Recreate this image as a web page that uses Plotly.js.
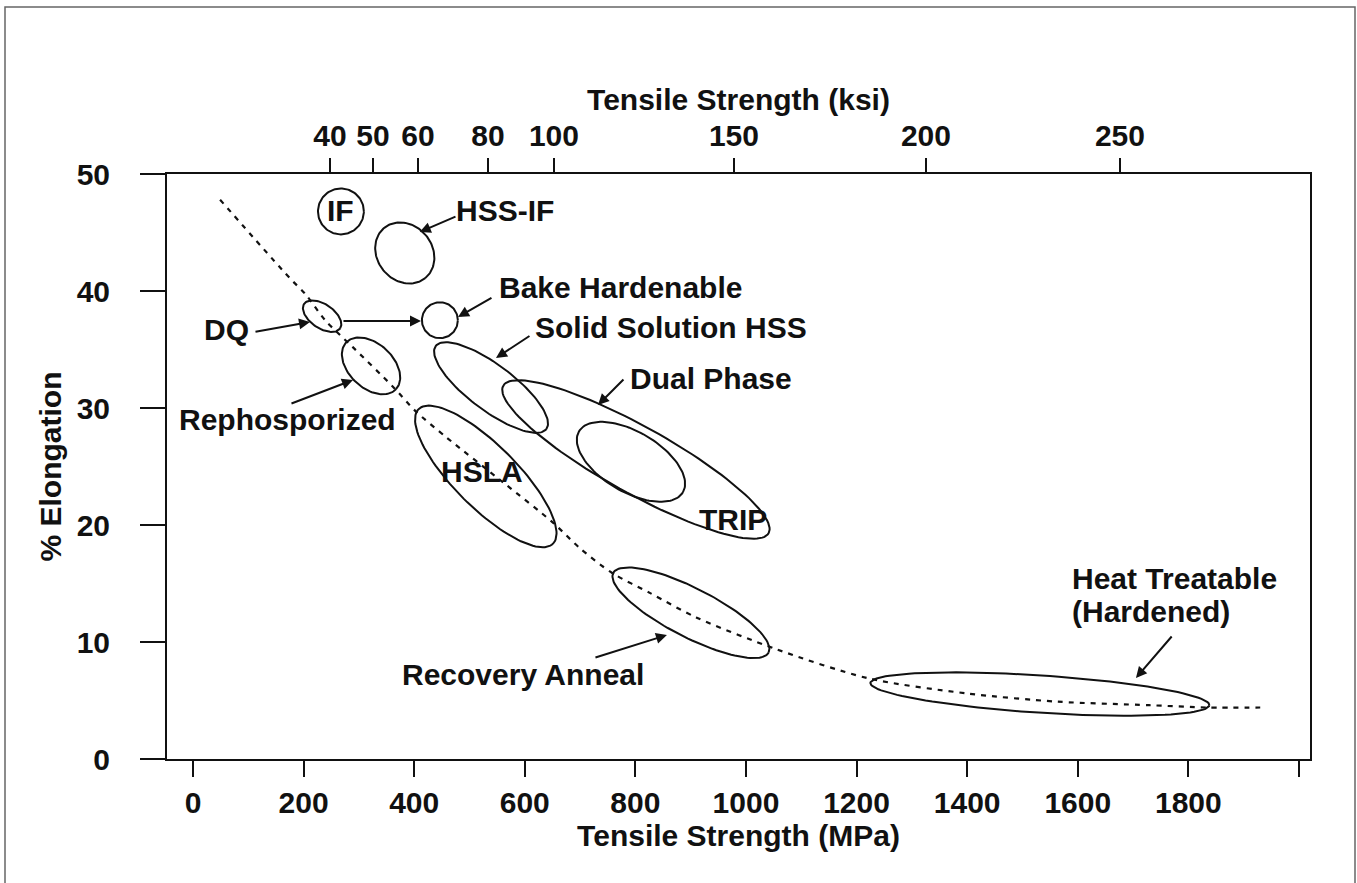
<!DOCTYPE html>
<html><head><meta charset="utf-8">
<script src="https://cdn.plot.ly/plotly-3.0.1.min.js"></script>
<style>html,body{margin:0;padding:0;background:#fff}</style>
</head><body><div id="chart" style="width:1357px;height:883px"></div>
<script>
// ---- data ----
// dashed trend line (tensile strength MPa, % elongation)
const trendMPa = [49, 175, 204, 239, 289, 362, 401, 458, 562, 651, 700, 758, 826, 910, 1054, 1221, 1400, 1564, 1729, 1835, 1930];
const trendEl  = [47.8, 41.1, 39.7, 37.5, 35.2, 31.8, 29.8, 27.5, 23.6, 20.2, 18.0, 15.9, 14.2, 12.1, 9.4, 6.9, 5.6, 4.9, 4.6, 4.4, 4.4];

// steel grade regions: ends of each ellipse (low-strength end, high-strength end) and width ratio
const regionNames = ['IF', 'HSS-IF', 'DQ', 'Bake Hardenable', 'Rephosporized', 'Solid Solution HSS', 'Dual Phase', 'TRIP', 'HSLA', 'Recovery Anneal', 'Heat Treatable (Hardened)'];
const regionLowMPa  = [226, 346, 201, 414, 277, 439, 561, 698, 408, 760, 1225];
const regionLowEl   = [46.8, 45.4, 38.9, 37.5, 35.6, 35.3, 31.9, 28.0, 29.9, 15.9, 6.5];
const regionHighMPa = [309, 420, 266, 479, 367, 639, 1041, 886, 651, 1041, 1838];
const regionHighEl  = [46.8, 41.1, 36.8, 37.5, 31.6, 28.2, 19.3, 22.8, 18.4, 9.1, 4.6];
const regionWidth   = [1, 0.85, 0.55, 1, 0.65, 0.33, 0.22, 0.5, 0.33, 0.28, 0.11];

// region labels
const labelText = ['IF', 'HSS-IF', 'DQ', 'Bake Hardenable', 'Rephosporized', 'Solid Solution HSS', 'Dual Phase', 'TRIP', 'HSLA', 'Recovery Anneal', 'Heat Treatable', '(Hardened)'];
const labelMPa  = [267.6, 565, 60.6, 774, 171.8, 864.4, 936.7, 976.5, 522.6, 597.6, 1586, 1586];
const labelEl   = [46.84, 46.84, 36.67, 40.34, 29.06, 36.92, 32.48, 20.43, 24.57, 7.18, 15.47, 12.65];
const labelAnchor = ['center','center','center','center','center','center','center','center','center','center','left','left'];

// pointer arrows (tail -> head)
const arrowTailMPa = [477.4, 542.5, 110.3, 269.4, 175.4, 611.2, 781.2, 725.1, 1772.2];
const arrowTailEl  = [46.41, 39.49, 36.50, 37.44, 30.34, 36.24, 32.56, 8.63, 10.60];
const arrowHeadMPa = [410.1, 479.2, 211.6, 412.3, 289.3, 547.9, 732.4, 857.1, 1705.2];
const arrowHeadEl  = [45.04, 37.78, 37.35, 37.44, 32.39, 34.27, 30.26, 10.60, 6.92];

// axes
const mpaTicks = [0, 200, 400, 600, 800, 1000, 1200, 1400, 1600, 1800, 2000];
const mpaTickText = ['0', '200', '400', '600', '800', '1000', '1200', '1400', '1600', '1800', ''];
const elTicks = [0, 10, 20, 30, 40, 50];
const ksiTickText = ['40', '50', '60', '80', '100', '150', '200', '250'];
const ksiTickAtMPa = [247.7, 325.5, 406.9, 533.5, 652.8, 978.3, 1325.5, 1676.3];

// ---- layout geometry ----
const W = 1357, H = 883;
const M = {l: 167, r: 47, t: 174, b: 124};
const xRange = [-47, 2020], yRange = [0, 50];
const sx = (W - M.l - M.r) / (xRange[1] - xRange[0]);
const sy = (H - M.t - M.b) / (yRange[1] - yRange[0]);

const INK = '#111';
const FONT = {family: 'Liberation Sans, Arial, sans-serif', size: 30, color: INK, weight: 'bold'};

function ellipse(x1, y1, x2, y2, ratio) {
  const X1 = x1 * sx, Y1 = y1 * sy, X2 = x2 * sx, Y2 = y2 * sy;
  const cx = (X1 + X2) / 2, cy = (Y1 + Y2) / 2;
  const dx = (X2 - X1) / 2, dy = (Y2 - Y1) / 2;
  const a = Math.hypot(dx, dy), ux = dx / a, uy = dy / a, b = a * ratio;
  const xs = [], ys = [], N = 120;
  for (let i = 0; i <= N; i++) {
    const t = 2 * Math.PI * i / N, c = Math.cos(t), s = Math.sin(t);
    xs.push((cx + a * c * ux - b * s * uy) / sx);
    ys.push((cy + a * c * uy + b * s * ux) / sy);
  }
  return {xs, ys};
}

const traces = [];
traces.push({
  x: trendMPa, y: trendEl, mode: 'lines', type: 'scatter', hoverinfo: 'skip', showlegend: false,
  line: {color: INK, width: 2.2, dash: '5px,6px', shape: 'spline', smoothing: 0.8}
});
regionNames.forEach((name, i) => {
  const e = ellipse(regionLowMPa[i], regionLowEl[i], regionHighMPa[i], regionHighEl[i], regionWidth[i]);
  traces.push({x: e.xs, y: e.ys, mode: 'lines', type: 'scatter', name, showlegend: false,
    hoverinfo: 'name', line: {color: INK, width: 2}});
});
// register the top (ksi) axis
traces.push({x: [null], y: [null], xaxis: 'x2', yaxis: 'y', mode: 'markers', showlegend: false, hoverinfo: 'skip'});

const annotations = [];
labelText.forEach((t, i) => {
  annotations.push({x: labelMPa[i], y: labelEl[i], xref: 'x', yref: 'y', text: t, showarrow: false,
    xanchor: labelAnchor[i], yanchor: 'middle', font: FONT});
});
arrowTailMPa.forEach((_, i) => {
  annotations.push({x: arrowHeadMPa[i], y: arrowHeadEl[i], ax: arrowTailMPa[i], ay: arrowTailEl[i],
    xref: 'x', yref: 'y', axref: 'x', ayref: 'y', text: '', showarrow: true,
    arrowhead: 2, arrowsize: 1.1, arrowwidth: 2, arrowcolor: INK, standoff: 0, startstandoff: 0});
});

const axisCommon = {showgrid: false, zeroline: false, showline: true, linewidth: 2, linecolor: INK,
  ticks: 'outside', tickwidth: 2, tickcolor: INK, tickfont: FONT};

const layout = {
  width: W, height: H, margin: M, paper_bgcolor: '#fff', plot_bgcolor: '#fff', showlegend: false,
  font: FONT,
  xaxis: Object.assign({}, axisCommon, {range: xRange, tickmode: 'array', tickvals: mpaTicks, ticktext: mpaTickText,
    ticklen: 16, ticklabelstandoff: 0,
    title: {text: 'Tensile Strength (MPa)', font: FONT, standoff: 0}}),
  xaxis2: Object.assign({}, axisCommon, {range: xRange, overlaying: 'x', side: 'top', tickmode: 'array',
    tickvals: ksiTickAtMPa, ticktext: ksiTickText, ticklen: 14, ticklabelstandoff: 0,
    title: {text: 'Tensile Strength (ksi)', font: FONT, standoff: 0}}),
  yaxis: Object.assign({}, axisCommon, {range: yRange, tickmode: 'array', tickvals: elTicks, ticklen: 25,
    mirror: true, ticklabelstandoff: 24,
    title: {text: '% Elongation', font: FONT, standoff: 6}}),
  annotations,
  shapes: [{type: 'rect', xref: 'paper', yref: 'paper',
    x0: (5 - M.l) / (W - M.l - M.r), x1: (1355 - M.l) / (W - M.l - M.r),
    y0: -0.3, y1: (H - M.b - 7) / (H - M.t - M.b),
    line: {color: '#666', width: 1.5}, layer: 'below'}]
};

Plotly.newPlot('chart', traces, layout, {displayModeBar: false, staticPlot: true});
</script></body></html>
